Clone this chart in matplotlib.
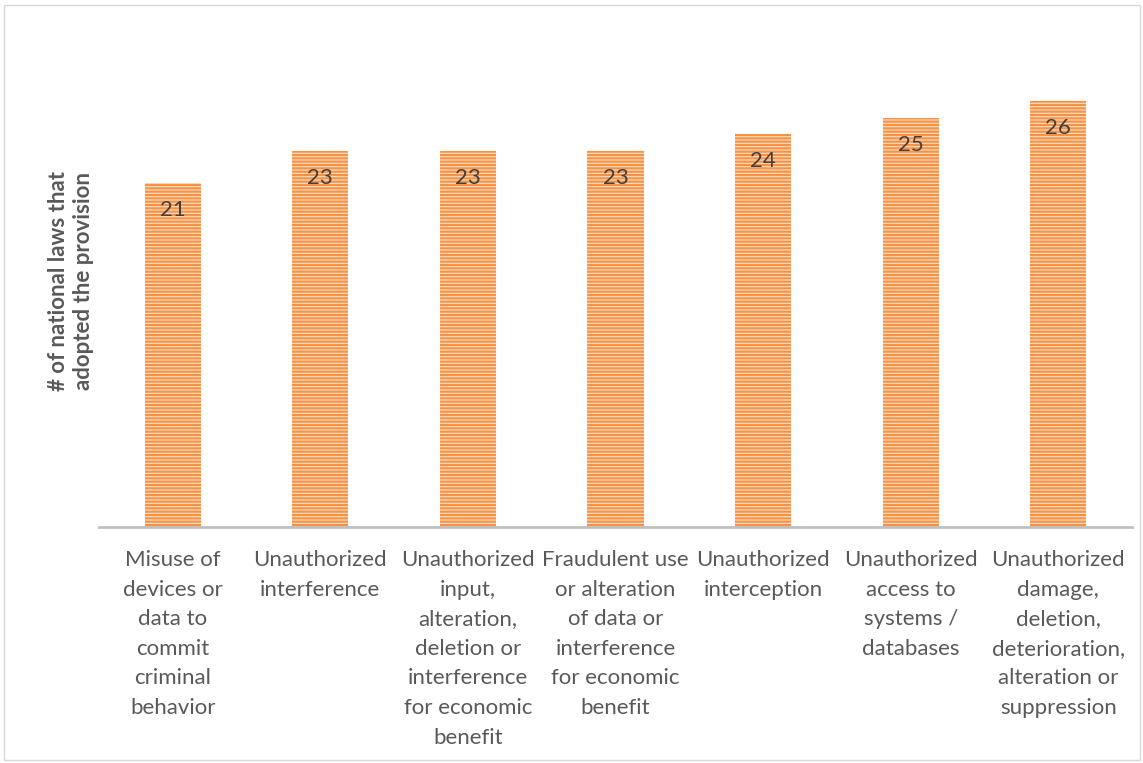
import numpy as np
import matplotlib.pyplot as plt
from matplotlib.patches import Rectangle

categories = [
    "Misuse of\ndevices or\ndata to\ncommit\ncriminal\nbehavior",
    "Unauthorized\ninterference",
    "Unauthorized\ninput,\nalteration,\ndeletion or\ninterference\nfor economic\nbenefit",
    "Fraudulent use\nor alteration\nof data or\ninterference\nfor economic\nbenefit",
    "Unauthorized\ninterception",
    "Unauthorized\naccess to\nsystems /\ndatabases",
    "Unauthorized\ndamage,\ndeletion,\ndeterioration,\nalteration or\nsuppression",
]
counts = [21, 23, 23, 23, 24, 25, 26]

plt.rcParams['font.family'] = ['Lato', 'DejaVu Sans']
plt.rcParams['hatch.linewidth'] = 1.5

W, H = 1143, 763
fig = plt.figure(figsize=(W / 100, H / 100), dpi=100)

# light frame around the whole chart
fig.patches.append(Rectangle((4 / W, 3 / H), 1136 / W, 755 / H, transform=fig.transFigure,
                             fill=False, edgecolor='#d9d9d9', linewidth=1))

left, right, base, top = 99, 1132, 527, 36
ax = fig.add_axes([left / W, (H - base) / H, (right - left) / W, (base - top) / H])

x = np.arange(len(counts))
bars = ax.bar(x, counts, width=0.38, color='#fdd9ba', edgecolor='#f79143',
              hatch='-----', linewidth=0)

for xi, v in zip(x, counts):
    ax.annotate(str(v), (xi, v), xytext=(0, -27), textcoords='offset pixels',
                ha='center', va='center', fontsize=16, color='#404040')

ax.set_xlim(-0.5, len(counts) - 0.5)
ax.set_ylim(0, 30)
ax.set_yticks([])
for s in ['top', 'right', 'left']:
    ax.spines[s].set_visible(False)
ax.spines['bottom'].set_color('#bfbfbf')
ax.spines['bottom'].set_linewidth(2)

ax.set_xticks(x)
ax.set_xticklabels(categories, fontsize=16, color='#595959', linespacing=1.6, va='top')
ax.tick_params(axis='x', length=0, pad=16.5)

fig.text(71 / W, (H - 281) / H, "# of national laws that\nadopted the provision",
         rotation=90, ha='center', va='center', fontsize=16, fontweight='bold',
         color='#595959', linespacing=1.2)

fig.savefig('out.png', dpi=100)
